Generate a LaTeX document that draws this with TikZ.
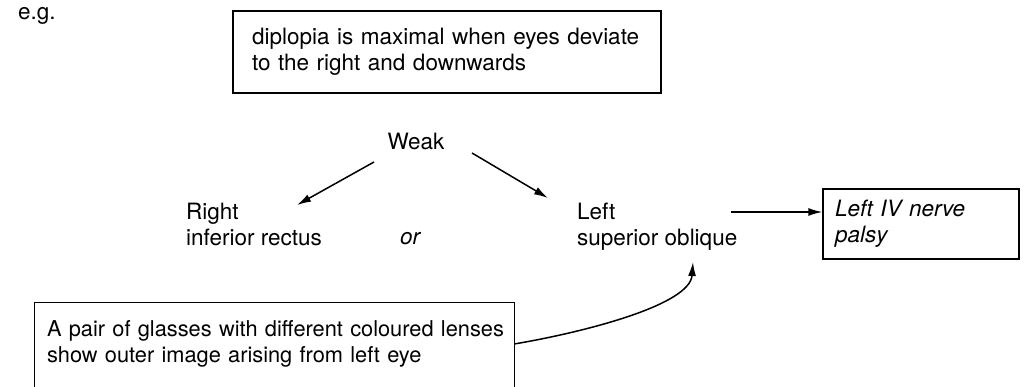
\documentclass[tikz,border=0pt]{standalone}
\usepackage{fontspec}
\setmainfont{TeX Gyre Heros}
\usetikzlibrary{arrows.meta}
\begin{document}
\begin{tikzpicture}[x=1pt,y=-1pt,
  fnt/.style={font=\fontsize{22.5}{26}\selectfont},
  txt/.style={fnt, inner sep=0pt, align=left, anchor=base west},
  box/.style={draw, line width=1.3pt, fnt, align=left},
  arr/.style={line width=1.5pt, -{Latex[length=14pt,width=8pt]}}]
\useasboundingbox (0,0) rectangle (1028,387);
\fill[white] (0,0) rectangle (1028,387);

\node[txt] (eg) at (18,20) {e.g.};

\node[box, text width=390pt, inner xsep=19pt, minimum height=82pt] (obs) at (447,52)
  {diplopia is maximal when eyes deviate\\to the right and downwards};

\node[txt, anchor=base] (weak) at (416,150) {Weak};
\node[txt] (rir) at (186,246) {Right\\inferior rectus};
\node[txt, font=\fontsize{22.5}{26}\selectfont\itshape] (or) at (400,245) {or};
\node[txt] (lso) at (577,246) {Left\\superior oblique};

\node[box, font=\fontsize{22.5}{26}\selectfont\itshape, text width=172pt, inner xsep=12pt, minimum height=70pt] (palsy) at (921,224)
  {Left IV nerve\\palsy};

\node[font=\fontsize{21.8}{26.5}\selectfont, align=left, text width=455pt, inner xsep=12pt, minimum height=82pt] (glasses) at (274.5,344)
  {\mbox{A pair of glasses with different coloured lenses}\\show outer image arising from left eye};
\draw[line width=1.3pt] ([yshift=-5pt]glasses.south west) |- (glasses.north east) -- ([yshift=-5pt]glasses.south east);

\coordinate (wl1) at (374,162);
\coordinate (wl2) at (297,205);
\coordinate (wr1) at (472,153);
\coordinate (wr2) at (548,198);
\draw[arr] (wl1) -- (wl2);
\draw[arr] (wr1) -- (wr2);

\coordinate (la) at (731,212);
\draw[arr] (la) -- (la -| palsy.west);

\coordinate (cend) at (693,262);
\draw[arr] (glasses.east) .. controls (585,332) and (690,305) .. (cend);
\end{tikzpicture}
\end{document}
